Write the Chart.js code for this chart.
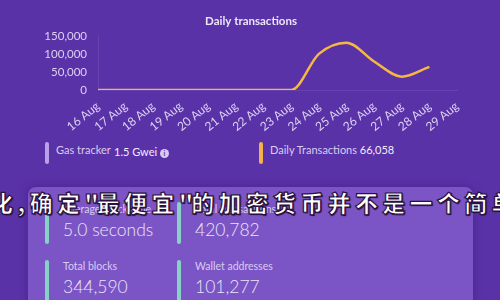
<!DOCTYPE html>
<html>
<head>
<meta charset="utf-8">
<script src="https://cdn.jsdelivr.net/npm/chart.js@4/dist/chart.umd.min.js"></script>
<style>
  html, body { margin: 0; padding: 0; }
  body {
    width: 500px; height: 300px; overflow: hidden; position: relative;
    background: #5a32a8;
    font-family: Lato, "Open Sans", sans-serif;
  }
  #wrap { position: absolute; left: 0; top: 0; width: 500px; height: 140px; }
  .bar { position: absolute; width: 4px; border-radius: 2px; }
  .lbl { position: absolute; font-size: 10.5px; color: #d9ccf2; white-space: nowrap; }
  .val { position: absolute; font-size: 17.5px; font-weight: 300; color: #ece4fa; white-space: nowrap; }
  #card {
    position: absolute; left: 28px; top: 187px; width: 445px; height: 140px;
    background: #7b55c5; border-radius: 8px;
    box-shadow: 0 0 10px rgba(40, 10, 90, 0.35);
  }
  #overlay {
    position: absolute; left: -10px; top: 185px; width: 560px; white-space: nowrap;
    font-family: "Noto Sans CJK SC"; font-weight: 900; font-size: 23px;
    letter-spacing: 4.3px; color: #ffffff;
    -webkit-text-stroke: 1.2px #2a1040;
    text-shadow: 1px 1px 1px #20083a;
  }
  #overlay .q { letter-spacing: -2px; }
</style>
</head>
<body>
<div id="wrap"><canvas id="myChart" width="500" height="140"></canvas></div>

<!-- top row -->
<div class="bar" style="left:45px; top:142px; height:22px; background:#b9a2e6;"></div>
<div class="lbl" style="left:56px; top:143px; font-size:11px;">Gas tracker</div>
<div class="lbl" style="left:114px; top:145px; font-size:11px; color:#f2ecfc;">1.5 Gwei <span style="display:inline-block;width:9px;height:9px;border-radius:5px;background:#d8ccef;color:#5a32a8;font-size:7px;line-height:9px;text-align:center;font-weight:bold;">i</span></div>
<div class="bar" style="left:259px; top:142px; height:22px; background:#f2b24a;"></div>
<div class="lbl" style="left:270px; top:143px; font-size:11px;">Daily Transactions <span style="color:#f2ecfc;">66,058</span></div>

<div id="card"></div>
<div class="bar" style="left:45px; top:202px; height:42px; background:#86d3c6;"></div>
<div class="lbl" style="left:63px; top:203px;">Average block time</div>
<div class="val" style="left:63px; top:219px;">5.0 seconds</div>
<div class="bar" style="left:177px; top:202px; height:42px; background:#86d3c6;"></div>
<div class="lbl" style="left:195px; top:203px;">Total transactions</div>
<div class="val" style="left:195px; top:219px;">420,782</div>
<div class="bar" style="left:45px; top:260px; height:42px; background:#86d3c6;"></div>
<div class="lbl" style="left:63px; top:260px;">Total blocks</div>
<div class="val" style="left:63px; top:276px;">344,590</div>
<div class="bar" style="left:177px; top:260px; height:42px; background:#86d3c6;"></div>
<div class="lbl" style="left:195px; top:260px;">Wallet addresses</div>
<div class="val" style="left:195px; top:276px;">101,277</div>

<div id="overlay">化,确定<span class="q">"</span>最便宜<span class="q">"</span>的加密货币并不是一个简单的</div>

<script>
const days = ["16 Aug", "17 Aug", "18 Aug", "19 Aug", "20 Aug", "21 Aug", "22 Aug",
              "23 Aug", "24 Aug", "25 Aug", "26 Aug", "27 Aug", "28 Aug", "29 Aug"];
const transactions = [0, 0, 0, 0, 0, 0, 0, 0, 100000, 131000, 79000, 37000, 64000, null];
const yTicks = [0, 50000, 100000, 150000];

const ctx = document.getElementById('myChart');

const config = {
  type: 'line',
  data: {
    labels: days,
    datasets: [{
      label: 'Daily transactions',
      data: transactions,
      borderColor: '#f5b843',
      backgroundColor: '#f5b843',
      borderWidth: 2.5,
      pointRadius: 0,
      fill: false,
      cubicInterpolationMode: 'monotone'
    }]
  },
  options: {
    responsive: false,
    animation: false,
    // left/right padding keeps the title centred on the canvas
    layout: { padding: { left: 45, right: 43, top: 0, bottom: 0 } },
    plugins: {
      legend: { display: false },
      tooltip: { enabled: false },
      title: {
        display: true,
        text: 'Daily transactions',
        color: '#ece6f8',
        font: { family: 'Lato', size: 11.5, weight: 'bold' },
        padding: { top: 14, bottom: 8 }
      }
    },
    scales: {
      x: {
        offset: false,
        grid: { display: false, drawTicks: false },
        border: { display: true, color: 'rgba(255,255,255,0.08)' },
        ticks: {
          color: '#ddd2f2',
          font: { family: 'Lato', size: 12 },
          minRotation: 39,
          maxRotation: 39,
          padding: 9,
          autoSkip: false
        },
        afterFit: (scale) => { scale.height = 50; }
      },
      y: {
        min: 0,
        max: 150000,
        grid: { display: false, drawTicks: false },
        border: { display: true, color: 'rgba(255,255,255,0.08)' },
        afterBuildTicks: (scale) => { scale.ticks = yTicks.map(v => ({ value: v })); },
        ticks: {
          color: '#ddd2f2',
          font: { family: 'Lato', size: 11.5 },
          padding: 11,
          callback: (v) => v.toLocaleString('en-US')
        },
        afterFit: (scale) => { scale.width = 53; }
      }
    }
  }
};

const myChart = new Chart(ctx, config);
</script>
</body>
</html>
